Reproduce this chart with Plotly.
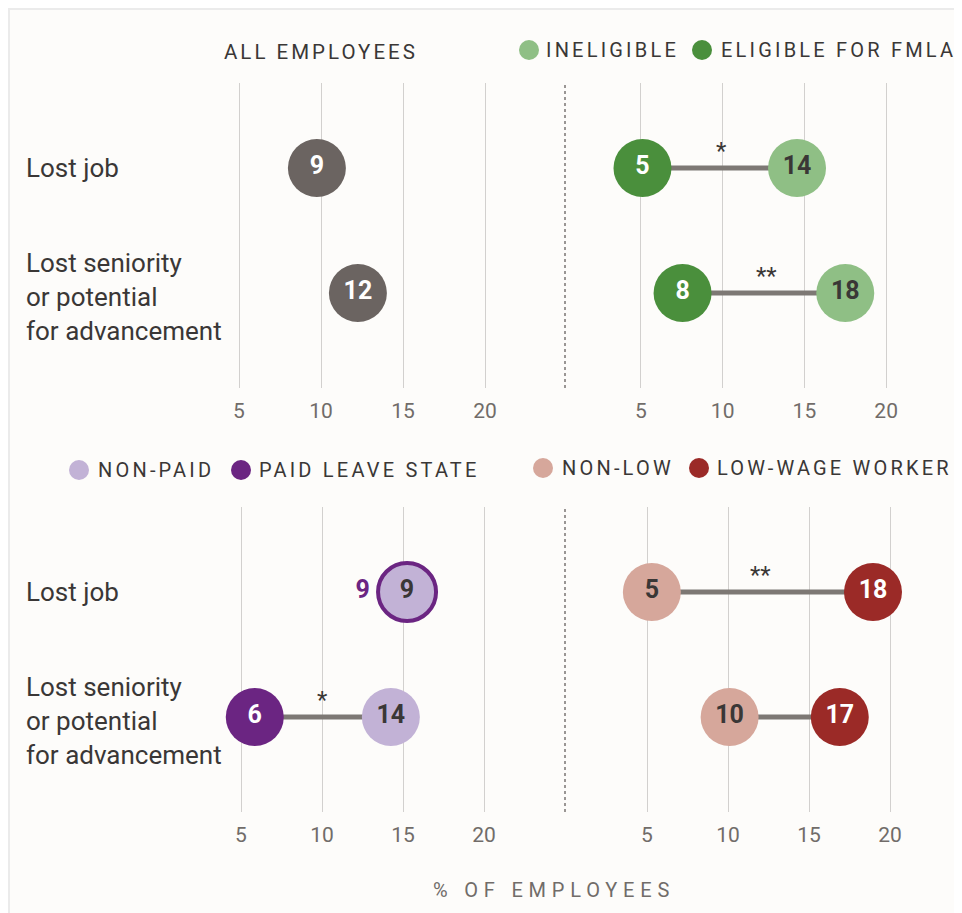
import plotly.graph_objects as go

# page has an 8px body margin; figure fills the rest of the 962x913 window
OFF = 8
W, H = 962 - OFF, 913 - OFF

# ---------------- data ----------------
row_labels = ["Lost job", "Lost seniority<br>or potential<br>for advancement"]
row_y = [1, 0]
tick_vals = [5, 10, 15, 20]

# All employees (positions, labels printed in circles)
all_pos = [9.75, 12.25]
all_lbl = ["9", "12"]

# FMLA eligibility
elig_pos = [5.1, 7.55]
elig_lbl = ["5", "8"]
inel_pos = [14.55, 17.5]
inel_lbl = ["14", "18"]
fmla_sig_x = [9.95, 12.7]
fmla_sig = ["*", "**"]

# Paid leave state
paid_pos = [15.25, 5.85]
paid_lbl = ["9", "6"]
nonpaid_pos = [15.25, 14.25]
nonpaid_lbl = ["9", "14"]
paid_sig_x = [None, 10.0]
paid_sig = ["", "*"]

# Low wage
low_pos = [18.95, 16.9]
low_lbl = ["18", "17"]
nonlow_pos = [5.3, 10.1]
nonlow_lbl = ["5", "10"]
wage_sig_x = [12.0, None]
wage_sig = ["**", ""]

# ---------------- style ----------------
FONT = "Roboto"
TXT = "#3a3736"
GREY_TXT = "#716c69"
C_ALL = "#6b6461"
C_ELIG, C_INEL = "#4a8f3c", "#8fbf85"
C_PAID, C_NONPAID = "#6b2582", "#c2b2d6"
C_LOW, C_NONLOW = "#9b2a27", "#d6a79b"
LINE_C = "#7d7874"
MS = 58


def px_x(p):
    return (p - OFF) / W


def px_y(p):
    return 1 - (p - OFF) / H


fig = go.Figure()

panels = {
    "1": (189.8, 534.2, 83, 388),
    "2": (591.8, 935.2, 83, 388),
    "3": (192.4, 532.6, 507, 812),
    "4": (598.4, 938.6, 507, 812),
}

for k, (xl, xr, yt, yb) in panels.items():
    xa = "xaxis" if k == "1" else f"xaxis{k}"
    ya = "yaxis" if k == "1" else f"yaxis{k}"
    fig.layout[xa] = dict(
        domain=[px_x(xl), px_x(xr)], range=[2, 23], tickvals=tick_vals,
        showgrid=True, gridcolor="#d2d0ce", gridwidth=1, zeroline=False,
        showline=False, ticks="outside", ticklen=4, tickcolor="rgba(0,0,0,0)",
        tickfont=dict(family=FONT, size=21, color=GREY_TXT),
        anchor="y" if k == "1" else f"y{k}", fixedrange=True,
    )
    fig.layout[ya] = dict(
        domain=[px_y(yb), px_y(yt)], range=[-0.76, 1.68], visible=False,
        anchor="x" if k == "1" else f"x{k}", fixedrange=True,
    )


def ax(k):
    return ("x", "y") if k == "1" else (f"x{k}", f"y{k}")


def add_pair_lines(k, a, b):
    xa, ya = ax(k)
    for i in range(len(row_y)):
        if a[i] == b[i]:
            continue
        fig.add_trace(go.Scatter(
            x=[a[i], b[i]], y=[row_y[i], row_y[i]], mode="lines",
            line=dict(color=LINE_C, width=5), xaxis=xa, yaxis=ya,
            showlegend=False, hoverinfo="skip"))


def add_dots(k, pos, lbl, color, txtcolor, line_w=0, line_c=None,
             textpos="middle center"):
    xa, ya = ax(k)
    fig.add_trace(go.Scatter(
        x=pos, y=row_y, mode="markers+text", text=lbl,
        textposition=textpos,
        textfont=dict(family=FONT, size=25, color=txtcolor, weight="bold"),
        marker=dict(size=MS, color=color,
                    line=dict(width=line_w, color=line_c if line_c else color)),
        xaxis=xa, yaxis=ya, cliponaxis=False, showlegend=False,
        hoverinfo="skip"))


def add_sig(k, xs, marks):
    xa, ya = ax(k)
    for i, (x, m) in enumerate(zip(xs, marks)):
        if x is None or not m:
            continue
        fig.add_annotation(x=x, y=row_y[i] + 0.01, xref=xa, yref=ya,
                           text=m, showarrow=False,
                           font=dict(family=FONT, size=24, color=TXT),
                           yanchor="bottom")


# Panel 1: all employees
add_dots("1", all_pos, all_lbl, C_ALL, "white")

# Panel 2: FMLA
add_pair_lines("2", elig_pos, inel_pos)
add_dots("2", elig_pos, elig_lbl, C_ELIG, "white")
add_dots("2", inel_pos, inel_lbl, C_INEL, TXT)
add_sig("2", fmla_sig_x, fmla_sig)

# Panel 3: paid leave
add_pair_lines("3", paid_pos, nonpaid_pos)
add_dots("3", paid_pos, paid_lbl, C_PAID, [C_PAID, "white"],
         textpos=["middle left", "middle center"])
add_dots("3", nonpaid_pos, nonpaid_lbl, C_NONPAID, TXT,
         line_w=[4, 0], line_c=[C_PAID, C_NONPAID])
add_sig("3", paid_sig_x, paid_sig)

# Panel 4: low wage
add_pair_lines("4", nonlow_pos, low_pos)
add_dots("4", nonlow_pos, nonlow_lbl, C_NONLOW, TXT)
add_dots("4", low_pos, low_lbl, C_LOW, "white")
add_sig("4", wage_sig_x, wage_sig)

# Row labels
for ya in ["y", "y3"]:
    for i, lab in enumerate(row_labels):
        fig.add_annotation(x=px_x(24), y=row_y[i] - (0.03 if i == 1 else 0),
                           xref="paper", yref=ya, text=lab,
                           showarrow=False, xanchor="left", align="left",
                           font=dict(family=FONT, size=26, color=TXT))

shapes = []
# card border (top / left edges visible)
shapes.append(dict(type="rect", xref="paper", yref="paper",
                   x0=px_x(OFF + 1), x1=1.05, y0=-0.05, y1=px_y(OFF + 1),
                   fillcolor="rgba(0,0,0,0)", line=dict(color="#ebebeb", width=2),
                   layer="below"))
# dotted dividers
for yt, yb in [(83, 388), (507, 812)]:
    shapes.append(dict(type="line", xref="paper", yref="paper",
                       x0=px_x(565), x1=px_x(565), y0=px_y(yb), y1=px_y(yt),
                       line=dict(color="#9a9694", width=2, dash="dot")))


def spaced(t, ls):
    return f'<span style="letter-spacing:{ls}px">{t}</span>'


def legend_item(cx, cy, color, label, tx):
    shapes.append(dict(type="circle", xref="paper", yref="paper",
                       x0=px_x(cx - 10), x1=px_x(cx + 10),
                       y0=px_y(cy + 10), y1=px_y(cy - 10),
                       fillcolor=color, line=dict(width=0)))
    fig.add_annotation(x=px_x(tx), y=px_y(cy), xref="paper", yref="paper",
                       text=spaced(label, 3.2), showarrow=False,
                       xanchor="left", yanchor="middle",
                       font=dict(family=FONT, size=20, color=TXT))


legend_item(529, 50, C_INEL, "INELIGIBLE", 544)
legend_item(702, 50, C_ELIG, "ELIGIBLE FOR FMLA", 719)
legend_item(79, 470, C_NONPAID, "NON-PAID", 96)
legend_item(241, 470, C_PAID, "PAID LEAVE STATE", 257)
legend_item(543, 468, C_NONLOW, "NON-LOW", 560)
legend_item(699, 468, C_LOW, "LOW-WAGE WORKER", 715)

fig.add_annotation(x=px_x(321), y=px_y(52), xref="paper", yref="paper",
                   text=spaced("ALL EMPLOYEES", 3), showarrow=False,
                   xanchor="center", yanchor="middle",
                   font=dict(family=FONT, size=20.5, color=TXT))

fig.add_annotation(x=px_x(554), y=px_y(890), xref="paper", yref="paper",
                   text=spaced("% OF EMPLOYEES", 5.8), showarrow=False,
                   xanchor="center", yanchor="middle",
                   font=dict(family=FONT, size=20, color=GREY_TXT))

fig.update_layout(
    width=W, height=H, margin=dict(l=0, r=0, t=0, b=0),
    paper_bgcolor="#fdfcfa", plot_bgcolor="rgba(0,0,0,0)",
    shapes=shapes, showlegend=False,
)

fig.write_html("out.html", config={"displayModeBar": False})
